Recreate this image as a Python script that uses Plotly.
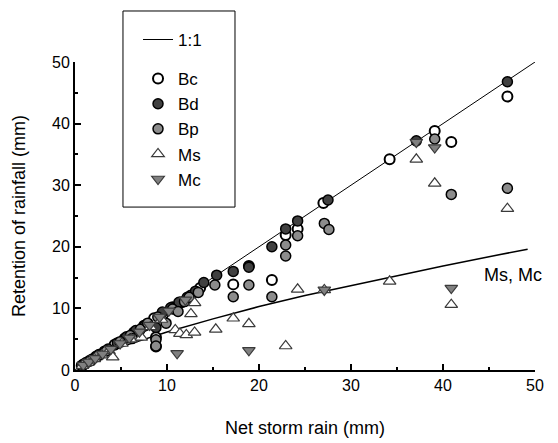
import plotly.graph_objects as go

# ---- data ----
Bc_x = [0.9, 1.6, 2.3, 3.2, 4.3, 5.4, 6.4, 7.5, 8.6, 9.6, 10.6, 11.6, 12.6, 8.8, 8.8, 13.6, 17.2, 18.9, 21.4, 22.9, 24.2, 27.0, 34.2, 39.1, 40.9, 47.0]
Bc_y = [0.9, 1.5, 2.2, 3.0, 4.1, 5.1, 6.1, 7.2, 8.4, 9.1, 10.2, 11.0, 12.1, 5.3, 3.8, 13.3, 13.9, 16.9, 14.6, 21.9, 22.9, 27.1, 34.2, 38.8, 37.0, 44.4]

Bd_x = [0.7, 1.2, 1.9, 2.6, 3.6, 4.6, 5.6, 6.6, 7.6, 8.8, 9.5, 10.4, 11.3, 12.2, 13.1, 14.0, 15.4, 17.2, 18.9, 21.4, 22.9, 24.2, 27.5, 37.1, 47.0]
Bd_y = [0.7, 1.2, 1.8, 2.5, 3.4, 4.4, 5.4, 6.4, 7.2, 6.9, 9.4, 10.1, 11.0, 11.8, 12.8, 14.2, 15.4, 16.0, 16.7, 20.0, 22.9, 24.2, 27.6, 37.2, 46.8]

Bp_x = [1.0, 1.7, 2.5, 3.4, 4.9, 6.0, 6.2, 7.1, 7.9, 9.0, 9.9, 10.6, 11.2, 11.9, 12.4, 13.4, 8.8, 8.8, 15.2, 17.2, 18.9, 21.4, 22.9, 22.9, 24.2, 27.1, 27.6, 39.1, 40.9, 47.0]
Bp_y = [0.9, 1.5, 2.3, 3.1, 4.6, 5.6, 5.1, 6.6, 7.6, 8.6, 7.6, 9.9, 9.5, 11.1, 11.8, 12.6, 4.9, 3.9, 13.8, 11.9, 13.8, 11.9, 20.3, 18.5, 21.8, 23.8, 22.8, 37.5, 28.5, 29.5]

Ms_x = [0.8, 1.4, 2.1, 2.9, 3.7, 4.1, 5.1, 6.1, 7.2, 8.2, 9.4, 10.9, 11.4, 12.1, 13.0, 12.6, 13.0, 15.3, 17.2, 18.9, 22.9, 24.2, 27.1, 34.2, 37.1, 39.1, 40.9, 47.0]
Ms_y = [0.7, 1.2, 1.8, 2.4, 3.1, 2.1, 4.3, 5.0, 5.3, 7.0, 8.2, 6.5, 5.9, 5.7, 6.1, 9.1, 10.9, 6.6, 8.4, 7.5, 3.9, 13.1, 13.0, 14.4, 34.2, 30.3, 10.6, 26.2]

Mc_x = [0.9, 1.5, 2.2, 3.0, 3.9, 4.9, 5.9, 7.0, 8.1, 9.2, 10.2, 11.1, 12.0, 18.9, 27.1, 37.1, 39.1, 40.9]
Mc_y = [0.8, 1.3, 1.9, 2.6, 3.4, 4.3, 5.2, 6.2, 7.3, 8.6, 9.6, 2.7, 11.4, 3.2, 13.0, 37.0, 36.1, 13.3]

one_x = [0, 50]
one_y = [0, 50]

fit_x = [0.5, 1, 2, 4, 6, 8, 10, 15, 20, 25, 30, 35, 40, 45, 49.2]
fit_y = [0.71, 1.16, 1.91, 3.17, 4.24, 5.25, 6.17, 8.3, 10.3, 12.1, 13.7, 15.4, 16.9, 18.4, 19.6]

x_ticks = [0, 10, 20, 30, 40, 50]
y_ticks = [0, 10, 20, 30, 40, 50]

FONT = "Liberation Sans, Arial, sans-serif"

fig = go.Figure()
fig.add_trace(go.Scatter(x=one_x, y=one_y, mode="lines", name="1:1",
                         line=dict(color="black", width=1), legendgroup="a"))
fig.add_trace(go.Scatter(x=fit_x, y=fit_y, mode="lines", showlegend=False,
                         line=dict(color="black", width=1.5)))

fig.add_trace(go.Scatter(x=Bc_x, y=Bc_y, mode="markers", name="Bc", legendgroup="b",
                         marker=dict(symbol="circle", size=10, color="white",
                                     line=dict(color="black", width=2))))
fig.add_trace(go.Scatter(x=Bd_x, y=Bd_y, mode="markers", name="Bd", legendgroup="b",
                         marker=dict(symbol="circle", size=10, color="#404040",
                                     line=dict(color="black", width=1.5))))
fig.add_trace(go.Scatter(x=Bp_x, y=Bp_y, mode="markers", name="Bp", legendgroup="b",
                         marker=dict(symbol="circle", size=10, color="#8c8c8c",
                                     line=dict(color="black", width=1.5))))
fig.add_trace(go.Scatter(x=Ms_x, y=Ms_y, mode="markers", name="Ms", legendgroup="b",
                         marker=dict(symbol="triangle-up", size=11, color="white",
                                     line=dict(color="#3a3a3a", width=1.2))))
fig.add_trace(go.Scatter(x=Mc_x, y=Mc_y, mode="markers", name="Mc", legendgroup="b",
                         marker=dict(symbol="triangle-down", size=11, color="#808080",
                                     line=dict(color="#3a3a3a", width=1.2))))

for tr in fig.data:
    tr.cliponaxis = False

axis_common = dict(
    showline=True, linecolor="black", linewidth=2, showgrid=False, zeroline=False,
    ticks="inside", ticklen=6, tickwidth=1.5, tickcolor="black", automargin=False,
    tickfont=dict(family=FONT, size=16, color="black"),
    minor=dict(ticks="inside", ticklen=3, tickwidth=1.5, tickcolor="black", dtick=5, showgrid=False),
)

fig.update_layout(
    width=558, height=443,
    margin=dict(l=75, r=23, t=62, b=73),
    plot_bgcolor="white", paper_bgcolor="white",
    font=dict(family=FONT, color="black"),
    xaxis=dict(range=[0, 50], tickvals=x_ticks, **axis_common,
               title=dict(text="Net storm rain (mm)", font=dict(family=FONT, size=18), standoff=28)),
    yaxis=dict(range=[0, 50], tickvals=y_ticks, **axis_common,
               title=dict(text="Retention of rainfall (mm)", font=dict(family=FONT, size=18), standoff=22)),
    legend=dict(x=0.137, y=1.13, xanchor="left", yanchor="top",
                bgcolor="rgba(0,0,0,0)", borderwidth=0,
                font=dict(family=FONT, size=17, color="black"),
                tracegroupgap=14, traceorder="grouped"),
    shapes=[dict(type="rect", xref="paper", yref="paper",
                 x0=0.1043, x1=0.3478, y0=0.529, y1=1.1656,
                 line=dict(color="black", width=1), fillcolor="rgba(0,0,0,0)", layer="above")],
    annotations=[dict(x=44.2, y=15.4, xref="x", yref="y", text="Ms, Mc", showarrow=False,
                      xanchor="left", yanchor="middle",
                      font=dict(family=FONT, size=18, color="black"))],
    showlegend=True,
)

fig.write_html("out.html")
